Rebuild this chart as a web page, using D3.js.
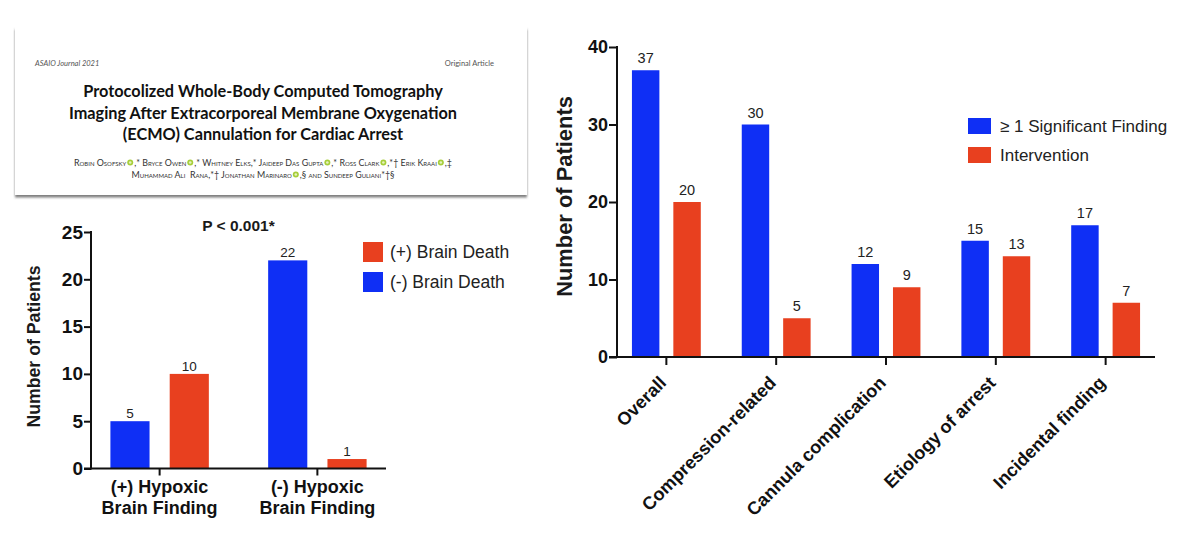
<!DOCTYPE html>
<html>
<head>
<meta charset="utf-8">
<script src="https://cdn.jsdelivr.net/npm/d3@7/dist/d3.min.js"></script>
<style>
  html, body { margin: 0; padding: 0; background: #fff; }
  svg { display: block; }
  text { font-family: "Liberation Sans", Arial, sans-serif; }
  .paper text { font-family: Lato, sans-serif; }
</style>
</head>
<body>
<svg id="fig" width="1200" height="543" fill="#1a1a1a"></svg>
<script>
// Article header
const journalLabel = "ASAIO Journal 2021";
const articleType = "Original Article";
const titleLines = [
  "Protocolized Whole-Body Computed Tomography",
  "Imaging After Extracorporeal Membrane Oxygenation",
  "(ECMO) Cannulation for Cardiac Arrest"
];
// An ORCID mark sits between consecutive segments of a line
const authorLine1 = ["Robin Osofsky", ",* Bryce Owen", ",* Whitney Elks,* Jaideep Das Gupta", ",* Ross Clark", ",*† Erik Kraai", ",‡"];
const authorLine2 = ["Muhammad Ali  Rana,*† Jonathan Marinaro", ",§ and Sundeep Guliani*†§"];

// Hypoxic brain finding vs brain death
const brainCategories = ["(+) Hypoxic\nBrain Finding", "(-) Hypoxic\nBrain Finding"];
const brainNegative = [5, 22];
const brainPositive = [10, 1];
const brainTicks = [0, 5, 10, 15, 20, 25];

// CT findings by category
const findingCategories = ["Overall", "Compression-related", "Cannula complication", "Etiology of arrest", "Incidental finding"];
const significantFinding = [37, 30, 12, 15, 17];
const intervention = [20, 5, 9, 13, 7];
const findingTicks = [0, 10, 20, 30, 40];

const BLUE = "#0f2ff5";
const RED = "#e8401f";
const svg = d3.select("#fig");

// Paper header card with a soft shadow underneath
const defs = svg.append("defs");
defs.append("filter").attr("id", "cardShadow")
  .attr("x", "-3%").attr("y", "-5%").attr("width", "106%").attr("height", "112%")
  .append("feDropShadow")
  .attr("dx", 0).attr("dy", 2.5).attr("stdDeviation", 1.2)
  .attr("flood-color", "#555").attr("flood-opacity", 0.75);

const paper = svg.append("g").attr("class", "paper");
paper.append("rect")
  .attr("x", 15).attr("y", 27).attr("width", 512).attr("height", 168)
  .attr("fill", "#fff").attr("filter", "url(#cardShadow)");
paper.append("text").attr("x", 35).attr("y", 66)
  .attr("font-size", 7.5).attr("font-style", "italic").attr("fill", "#555").text(journalLabel);
paper.append("text").attr("x", 494).attr("y", 66).attr("text-anchor", "end")
  .attr("font-size", 7.5).attr("fill", "#555").text(articleType);
paper.selectAll("text.title").data(titleLines).join("text")
  .attr("class", "title")
  .attr("x", 263)
  .attr("y", (d, i) => [97, 119, 140][i])
  .attr("text-anchor", "middle")
  .attr("font-size", 16.3).attr("font-weight", 700).attr("fill", "#111")
  .text(d => d);

// Lays out one author line, measuring each segment so the marks land between them
function drawAuthors(segments, baseline) {
  const centre = 263, markGap = 8;
  const g = paper.append("g");
  const nodes = segments.map(s => g.append("text")
    .attr("y", baseline).attr("font-size", 8.9).attr("fill", "#333")
    .style("font-variant", "small-caps").style("white-space", "pre").text(s));
  const widths = nodes.map(n => n.node().getComputedTextLength());
  let x = centre - (d3.sum(widths) + markGap * (segments.length - 1)) / 2;
  nodes.forEach((n, i) => {
    n.attr("x", x);
    x += widths[i];
    if (i < segments.length - 1) {
      g.append("circle").attr("cx", x + markGap / 2).attr("cy", baseline - 3.5)
        .attr("r", 3).attr("fill", "#a6ce39");
      g.append("circle").attr("cx", x + markGap / 2).attr("cy", baseline - 3.5)
        .attr("r", 1.3).attr("fill", "#e6f2bd");
      x += markGap;
    }
  });
}
drawAuthors(authorLine1, 166);
drawAuthors(authorLine2, 178);

// Grouped bar panel shared by both charts
function barPanel(o) {
  const g = svg.append("g");
  const x = d3.scaleBand().domain(o.categories).range([o.left, o.right])
    .paddingInner(o.groupGap).paddingOuter(o.groupEdge);
  const inner = d3.scaleBand().domain(o.series.map(s => s.name))
    .range([0, x.bandwidth()]).paddingInner(o.barGap);
  const y = d3.scaleLinear().domain(o.domain).range([o.bottom, o.top]);

  // Bars and their value labels
  o.series.forEach(s => {
    const row = o.categories.map((c, i) => ({ c, v: s.values[i] }));
    g.selectAll(null).data(row).join("rect")
      .attr("x", d => x(d.c) + inner(s.name))
      .attr("y", d => y(d.v))
      .attr("width", inner.bandwidth())
      .attr("height", d => y(0) - y(d.v))
      .attr("fill", s.color);
    g.selectAll(null).data(row).join("text")
      .attr("x", d => x(d.c) + inner(s.name) + inner.bandwidth() / 2)
      .attr("y", d => y(d.v) - o.valueOffset)
      .attr("text-anchor", "middle")
      .attr("font-size", o.valueSize)
      .attr("fill", "#222")
      .text(d => d.v);
  });

  // Axes
  const yAxis = g.append("g").attr("transform", `translate(${o.left},0)`)
    .call(d3.axisLeft(y).tickValues(o.ticks).tickSize(o.tickLen).tickPadding(1));
  const xAxis = g.append("g").attr("transform", `translate(0,${o.bottom})`)
    .call(d3.axisBottom(x).tickSize(o.tickLen).tickSizeOuter(0));
  [yAxis, xAxis].forEach(a => {
    a.selectAll("path.domain").attr("stroke", "#111").attr("stroke-width", 2);
    a.selectAll(".tick line").attr("stroke", "#111").attr("stroke-width", 2);
  });
  yAxis.select("path.domain").attr("d", `M${0},${o.top - 1}V${o.bottom + 1}`);
  xAxis.select("path.domain").attr("d", `M${o.left - o.tickLen},0H${o.right}`);
  yAxis.selectAll(".tick text")
    .attr("font-size", o.yTickSize).attr("font-weight", 700)
    .style("fill", "#111");

  // Rotated y title
  g.append("text")
    .attr("transform", `translate(${o.titleX},${(o.top + o.bottom) / 2 + o.titleShift}) rotate(-90)`)
    .attr("text-anchor", "middle").attr("font-size", o.titleSize).attr("font-weight", 700)
    .attr("fill", "#1a1a1a")
    .text("Number of Patients");

  // Legend
  o.legend.forEach(l => {
    g.append("rect").attr("x", o.legendX).attr("y", l.y - o.swatchH / 2)
      .attr("width", o.swatchW).attr("height", o.swatchH).attr("fill", l.color);
    g.append("text").attr("x", o.legendX + o.swatchW + o.legendPad).attr("y", l.y)
      .attr("dy", "0.36em").attr("font-size", o.legendSize).attr("fill", "#222").text(l.name);
  });
  return { g, xAxis };
}

// Left chart
const left = barPanel({
  categories: brainCategories,
  series: [
    { name: "(-) Brain Death", values: brainNegative, color: BLUE },
    { name: "(+) Brain Death", values: brainPositive, color: RED }
  ],
  ticks: brainTicks, domain: [0, 25],
  left: 91, right: 386, top: 232, bottom: 468.5,
  groupGap: 0.376, groupEdge: 0.123, barGap: 0.34,
  tickLen: 7, valueSize: 13.5, valueOffset: 3, yTickSize: 19,
  titleX: 40, titleShift: -3.75, titleSize: 17.7,
  legendX: 363, legendPad: 7, swatchW: 20, swatchH: 20, legendSize: 17.5,
  legend: [
    { name: "(+) Brain Death", color: RED, y: 252 },
    { name: "(-) Brain Death", color: BLUE, y: 282 }
  ]
});
left.xAxis.selectAll(".tick text").each(function (d) {
  const t = d3.select(this).text(null)
    .attr("font-size", 18).attr("font-weight", 700).style("fill", "#111")
    .attr("y", 0).attr("dy", null);
  d.split("\n").forEach((line, i) => {
    t.append("tspan").attr("x", 0).attr("y", [24, 45][i]).text(line);
  });
});
left.g.append("text").attr("x", 238.5).attr("y", 231)
  .attr("text-anchor", "middle").attr("font-size", 15.5).attr("font-weight", 700)
  .attr("fill", "#1a1a1a")
  .text("P < 0.001*");

// Right chart
const right = barPanel({
  categories: findingCategories,
  series: [
    { name: "≥ 1 Significant Finding", values: significantFinding, color: BLUE },
    { name: "Intervention", values: intervention, color: RED }
  ],
  ticks: findingTicks, domain: [0, 40],
  left: 617, right: 1155, top: 47, bottom: 357,
  groupGap: 0.373, groupEdge: 0.136, barGap: 0.337,
  tickLen: 8, valueSize: 14.5, valueOffset: 7, yTickSize: 18,
  titleX: 572, titleShift: -5.5, titleSize: 21.9,
  legendX: 968, legendPad: 9, swatchW: 23, swatchH: 16, legendSize: 17,
  legend: [
    { name: "≥ 1 Significant Finding", color: BLUE, y: 126 },
    { name: "Intervention", color: RED, y: 155 }
  ]
});
right.xAxis.selectAll(".tick text")
  .attr("font-size", 18.1).attr("font-weight", 700).style("fill", "#111")
  .attr("text-anchor", "end")
  .attr("dy", null).attr("y", 0)
  .attr("transform", "translate(1,27) rotate(-45)");
</script>
</body>
</html>
